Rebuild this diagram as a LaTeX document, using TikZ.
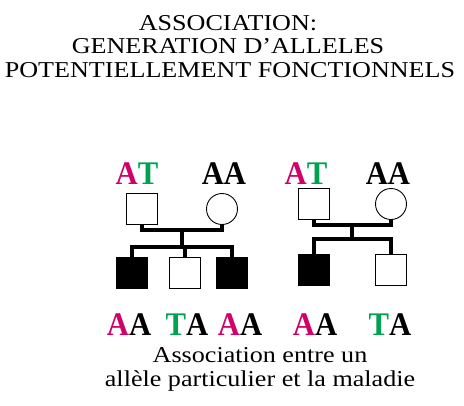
\documentclass[tikz,border=0pt]{standalone}
\usepackage{fontspec}
\setmainfont[FakeStretch=1.15]{Liberation Serif}
\newfontfamily\genofont[FakeStretch=0.93]{Liberation Serif}
\usetikzlibrary{positioning, calc}
\definecolor{cmagenta}{HTML}{D10069}
\definecolor{cgreen}{HTML}{00A150}
\tikzset{
  every picture/.style={x=1pt, y=-1pt},
  male/.style={draw, rectangle, minimum size=31pt, inner sep=0pt, line width=0.9pt, fill=#1},
  male/.default=white,
  female/.style={draw, circle, minimum size=31pt, inner sep=0pt, line width=0.9pt, fill=white},
  bond/.style={line width=4.5pt},
  geno/.style={anchor=base, inner sep=0pt, font=\genofont\fontsize{33}{36}\selectfont\bfseries},
  title/.style={anchor=base, inner sep=0pt, font=\rmfamily\fontsize{22.7}{24}\selectfont},
}
\newcommand{\Am}{\textcolor{cmagenta}{A}}
\newcommand{\Tg}{\textcolor{cgreen}{T}}

\begin{document}
\begin{tikzpicture}
  \useasboundingbox (0,0) rectangle (464,405);
  % title
  \node[title] (t1) at (228,30) {ASSOCIATION:};
  \node[title] (t2) at (228,53) {GENERATION D'ALLELES};
  \node[title] (t3) at (230,77) {POTENTIELLEMENT FONCTIONNELS};

  % first family
  \node[geno] (g1) at (137,184) {\Am\Tg};
  \node[geno] (g2) at (224,184) {AA};
  \node[male] (f1) at (142,209) {};
  \node[female] (m1) at (222,209) {};
  \coordinate (mid1) at (182,230);
  \coordinate (sib1) at (182,247);
  \node[male=black] (c1) at (132,273) {};
  \node[male] (c2) at (185,273) {};
  \node[male=black] (c3) at (232,273) {};
  \draw[bond] (f1.south) |- (mid1) -| (m1.south);
  \draw[bond] (mid1) -- (sib1);
  \draw[bond] (c1.north) |- (sib1) -| (c3.north);
  \draw[bond] (c2.north) -- (c2.north |- sib1);

  % second family
  \node[geno] (g3) at (306,184) {\Am\Tg};
  \node[geno] (g4) at (388,184) {AA};
  \node[male] (f2) at (314,204) {};
  \node[female] (m2) at (391,204) {};
  \coordinate (mid2) at (352,225);
  \coordinate (sib2) at (352,239);
  \node[male=black] (d1) at (314,270) {};
  \node[male] (d2) at (391,270) {};
  \draw[bond] (f2.south) |- (mid2) -| (m2.south);
  \draw[bond] (mid2) -- (sib2);
  \draw[bond] (d1.north) |- (sib2) -| (d2.north);

  % offspring genotypes
  \node[geno] (k1) at (129,335) {\Am A};
  \node[geno] (k2) at (187,335) {\Tg A};
  \node[geno] (k3) at (240,335) {\Am A};
  \node[geno] (k4) at (315,335) {\Am A};
  \node[geno] (k5) at (390,335) {\Tg A};

  % caption
  \node[title] (s1) at (260,362) {Association entre un};
  \node[title] (s2) at (260,386) {allèle particulier et la maladie};
\end{tikzpicture}
\end{document}
